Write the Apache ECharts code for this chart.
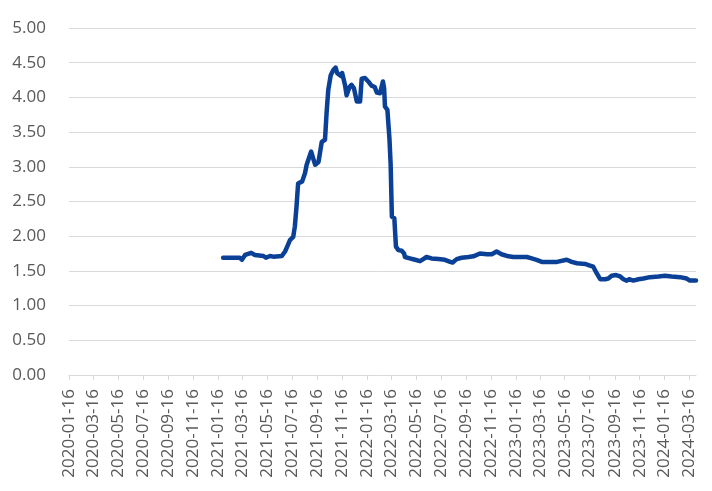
<!DOCTYPE html>
<html>
<head>
<meta charset="utf-8">
<script src="https://cdn.jsdelivr.net/npm/echarts@6/dist/echarts.min.js"></script>
<style>
html,body{margin:0;padding:0;background:#fff;}
#chart{width:712px;height:491px;}
</style>
</head>
<body>
<div id="chart"></div>
<script>
// Tick labels on the x axis (every two months)
const tickLabels = ["2020-01-16","2020-03-16","2020-05-16","2020-07-16","2020-09-16","2020-11-16",
  "2021-01-16","2021-03-16","2021-05-16","2021-07-16","2021-09-16","2021-11-16",
  "2022-01-16","2022-03-16","2022-05-16","2022-07-16","2022-09-16","2022-11-16",
  "2023-01-16","2023-03-16","2023-05-16","2023-07-16","2023-09-16","2023-11-16",
  "2024-01-16","2024-03-16"];
const axisStart = "2020-01-16";
const axisEnd = "2024-04-02";

// Series: dates and values
const dates = [
  "2021-01-28","2021-03-10","2021-03-15","2021-03-23","2021-04-07","2021-04-16","2021-05-07","2021-05-13",
  "2021-05-23","2021-05-31","2021-06-21","2021-06-29","2021-07-05","2021-07-11","2021-07-19","2021-07-23",
  "2021-07-27","2021-07-31","2021-08-10","2021-08-17","2021-08-21","2021-09-01","2021-09-06","2021-09-11",
  "2021-09-19","2021-09-27","2021-10-05","2021-10-09","2021-10-13","2021-10-19","2021-10-25","2021-10-31",
  "2021-11-04","2021-11-13","2021-11-16","2021-11-23","2021-11-27","2021-12-04","2021-12-09","2021-12-15",
  "2021-12-22","2021-12-30","2022-01-03","2022-01-11","2022-01-19","2022-01-27","2022-02-04","2022-02-09",
  "2022-02-17","2022-02-24","2022-02-27","2022-03-01","2022-03-07","2022-03-12","2022-03-15","2022-03-18",
  "2022-03-24","2022-03-28","2022-04-03","2022-04-11","2022-04-17","2022-04-19","2022-05-01","2022-05-14",
  "2022-05-26","2022-06-03","2022-06-11","2022-06-23","2022-07-10","2022-07-26","2022-08-08","2022-08-14",
  "2022-08-24","2022-09-05","2022-09-22","2022-10-04","2022-10-20","2022-11-06","2022-11-18","2022-11-30",
  "2022-12-12","2022-12-29","2023-01-10","2023-02-12","2023-02-24","2023-03-08","2023-03-21","2023-04-27",
  "2023-05-21","2023-06-02","2023-06-15","2023-07-05","2023-07-15","2023-07-25","2023-08-02","2023-08-11",
  "2023-08-15","2023-08-23","2023-08-31","2023-09-08","2023-09-19","2023-09-29","2023-10-07","2023-10-15",
  "2023-10-21","2023-10-31","2023-11-13","2023-11-25","2023-12-11","2024-01-01","2024-01-17","2024-02-02",
  "2024-02-23","2024-03-10","2024-03-18","2024-04-02"
];
const values = [
  1.69,1.69,1.66,1.73,1.76,1.73,1.715,1.69,
  1.715,1.705,1.715,1.78,1.86,1.945,1.99,2.14,
  2.42,2.76,2.79,2.91,3.03,3.22,3.12,3.03,
  3.07,3.36,3.39,3.79,4.11,4.32,4.39,4.43,
  4.35,4.31,4.35,4.18,4.03,4.15,4.18,4.13,
  3.94,3.94,4.27,4.28,4.23,4.17,4.15,4.07,
  4.06,4.23,4.13,3.87,3.82,3.41,3.03,2.28,
  2.26,1.85,1.80,1.79,1.75,1.70,1.68,1.66,
  1.64,1.67,1.70,1.68,1.67,1.66,1.63,1.62,
  1.67,1.69,1.70,1.71,1.75,1.74,1.74,1.78,
  1.74,1.71,1.70,1.70,1.68,1.66,1.63,1.63,
  1.66,1.63,1.61,1.60,1.58,1.56,1.47,1.38,
  1.36,1.38,1.39,1.43,1.44,1.42,1.38,1.36,
  1.38,1.36,1.38,1.39,1.41,1.42,1.43,1.42,
  1.41,1.39,1.36,1.36
];

const yMin = 0, yMax = 5, yStep = 0.5;

function ts(s){ return Date.parse(s); }
function fmt(t){
  const d = new Date(t);
  const p = n => (n < 10 ? '0' : '') + n;
  return d.getUTCFullYear() + '-' + p(d.getUTCMonth() + 1) + '-' + p(d.getUTCDate());
}

const tickTs = tickLabels.map(ts);
const seriesData = dates.map((d, i) => [ts(d), values[i]]);

const chart = echarts.init(document.getElementById('chart'), null, {renderer: 'canvas'});
const font = '"Open Sans", "Liberation Sans", sans-serif';
chart.setOption({
  animation: false,
  backgroundColor: '#ffffff',
  grid: {left: 69, right: 16, top: 28, bottom: 116, containLabel: false, outerBoundsMode: 'none'},
  xAxis: {
    type: 'value',
    min: ts(axisStart),
    max: ts(axisEnd),
    axisLine: {show: true, lineStyle: {color: '#d9d9d9', width: 1}},
    axisTick: {show: true, length: 5, lineStyle: {color: '#d9d9d9'}, customValues: tickTs},
    splitLine: {show: false},
    axisLabel: {
      customValues: tickTs,
      rotate: 90,
      margin: 14,
      color: '#595959',
      fontSize: 17,
      fontFamily: font,
      formatter: v => fmt(v)
    }
  },
  yAxis: {
    type: 'value',
    min: yMin, max: yMax, interval: yStep,
    axisLine: {show: false},
    axisTick: {show: false},
    splitLine: {show: true, lineStyle: {color: '#d9d9d9', width: 1}},
    axisLabel: {
      margin: 23,
      color: '#595959',
      fontSize: 17,
      fontFamily: font,
      formatter: v => v.toFixed(2)
    }
  },
  series: [{
    type: 'line',
    data: seriesData,
    showSymbol: false,
    symbol: 'none',
    lineStyle: {color: '#0b4097', width: 4.5, join: 'round', cap: 'round'},
    itemStyle: {color: '#0b4097'}
  }]
});
</script>
</body>
</html>
